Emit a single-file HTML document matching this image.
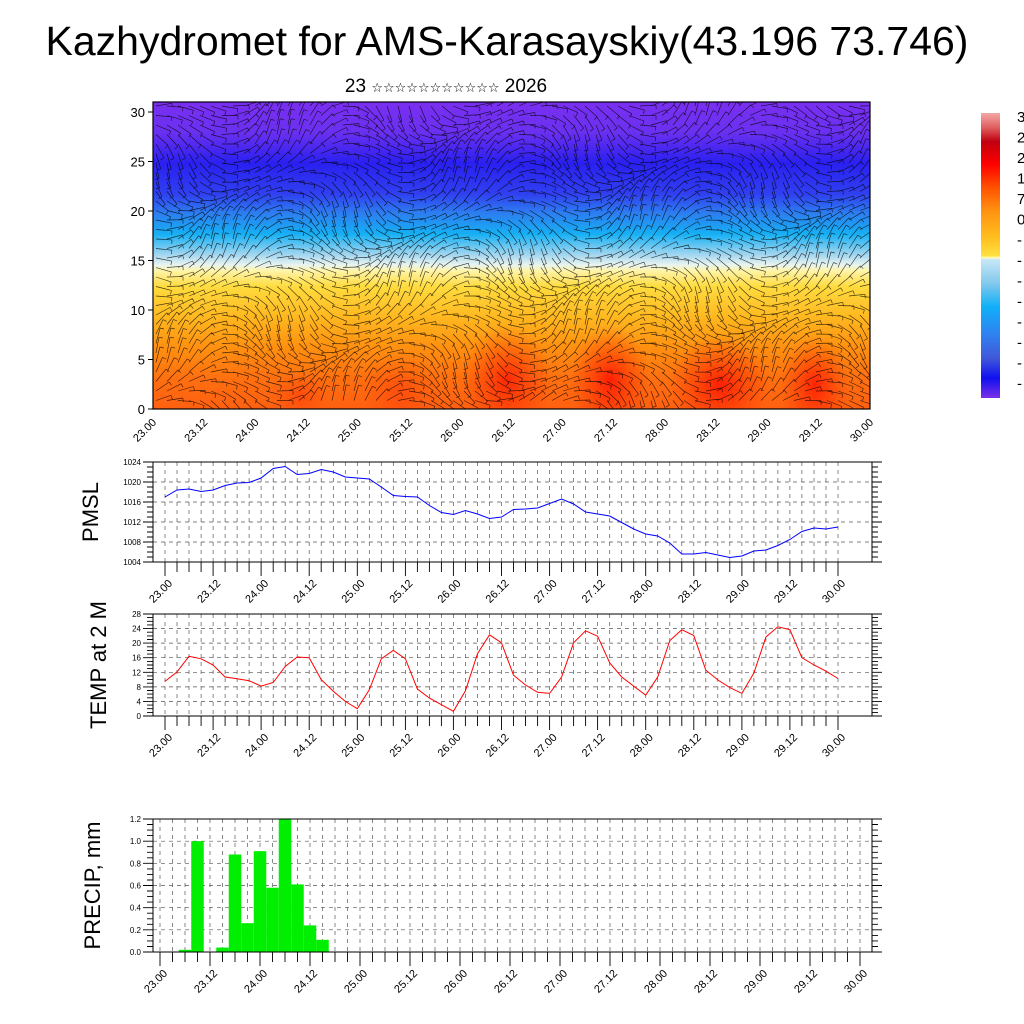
<!DOCTYPE html>
<html><head><meta charset="utf-8"><style>
html,body{margin:0;padding:0;background:#fff;}
svg{display:block;font-family:"Liberation Sans","DejaVu Sans",sans-serif;}
</style></head><body>
<svg id="svg" width="1024" height="1024" viewBox="0 0 1024 1024" xmlns="http://www.w3.org/2000/svg">
<defs>
<linearGradient id="fieldGrad" x1="0" y1="0" x2="0" y2="1">
<stop offset="0" stop-color="#7a2ff0"/>
<stop offset="0.1" stop-color="#6a30f0"/>
<stop offset="0.2" stop-color="#2a20f0"/>
<stop offset="0.3" stop-color="#3040f0"/>
<stop offset="0.36" stop-color="#2d7cf0"/>
<stop offset="0.43" stop-color="#16b0f4"/>
<stop offset="0.5" stop-color="#a8d8f0"/>
<stop offset="0.53" stop-color="#e8f4f0"/>
<stop offset="0.55" stop-color="#fff4a8"/>
<stop offset="0.6" stop-color="#ffdc40"/>
<stop offset="0.7" stop-color="#ffb820"/>
<stop offset="0.8" stop-color="#ff9010"/>
<stop offset="0.9" stop-color="#ff7010"/>
<stop offset="1" stop-color="#ff6010"/>
</linearGradient>
<linearGradient id="cbGrad" x1="0" y1="0" x2="0" y2="1">
<stop offset="0" stop-color="#f4a8a8"/>
<stop offset="0.05" stop-color="#e06060"/>
<stop offset="0.1" stop-color="#c00010"/>
<stop offset="0.18" stop-color="#ff0000"/>
<stop offset="0.26" stop-color="#ff5000"/>
<stop offset="0.34" stop-color="#ff9010"/>
<stop offset="0.44" stop-color="#ffc020"/>
<stop offset="0.5" stop-color="#ffe040"/>
<stop offset="0.51" stop-color="#ffffc8"/>
<stop offset="0.512" stop-color="#c8e8f8"/>
<stop offset="0.6" stop-color="#80c8ec"/>
<stop offset="0.68" stop-color="#10b0f8"/>
<stop offset="0.78" stop-color="#3080f0"/>
<stop offset="0.86" stop-color="#4058d8"/>
<stop offset="0.93" stop-color="#1010f0"/>
<stop offset="1" stop-color="#7a30e8"/>
</linearGradient>
<radialGradient id="redBlob"><stop offset="0" stop-color="#ff0000" stop-opacity="0.9"/><stop offset="1" stop-color="#ff2000" stop-opacity="0"/></radialGradient>
<clipPath id="fieldClip"><rect x="153" y="102" width="717" height="307"/></clipPath>
</defs>
<text x="507" y="55" font-size="41" text-anchor="middle">Kazhydromet for AMS-Karasayskiy(43.196 73.746)</text>
<text x="446" y="92" font-size="19" text-anchor="middle">23 <tspan font-size="13">☆☆☆☆☆☆☆☆☆☆☆</tspan> 2026</text>
<g id="top"></g>
<g id="cb"></g>
<g id="pmsl"></g>
<g id="temp"></g>
<g id="precip"></g>
</svg>
<script>
// ---- data ----
const timeLabels = ["23.00","23.12","24.00","24.12","25.00","25.12","26.00","26.12","27.00","27.12","28.00","28.12","29.00","29.12","30.00"];
const pmslValues = [1017.0,1018.4,1018.6,1018.1,1018.4,1019.3,1019.8,1019.9,1020.8,1022.7,1023.1,1021.5,1021.7,1022.5,1022.0,1021.0,1020.8,1020.6,1019.0,1017.3,1017.1,1017.0,1015.3,1013.9,1013.5,1014.3,1013.6,1012.7,1013.0,1014.5,1014.6,1014.8,1015.7,1016.6,1015.6,1014.0,1013.6,1013.2,1011.9,1010.6,1009.6,1009.2,1007.8,1005.6,1005.6,1005.9,1005.4,1004.9,1005.2,1006.2,1006.4,1007.3,1008.5,1010.1,1010.8,1010.6,1011.0];
const pmslTicks = [1004,1008,1012,1016,1020,1024];
const tempValues = [9.5,12.1,16.4,15.7,14.0,10.7,10.2,9.7,8.2,9.2,13.6,16.2,16.0,10.0,6.8,4.0,2.0,7.2,15.7,18.0,15.7,7.4,4.9,3.1,1.3,6.9,17.1,22.3,20.1,11.2,8.5,6.5,6.2,10.7,20.1,23.4,21.9,14.6,10.7,8.2,5.7,10.7,20.7,23.7,22.1,12.6,9.9,7.8,6.2,11.8,21.7,24.5,23.7,16.0,14.0,12.3,10.3];
const tempTicks = [0,4,8,12,16,20,24,28];
const precipValues = [0,0,0.02,1.0,0,0.04,0.88,0.26,0.91,0.58,1.2,0.61,0.24,0.11];
const precipTicks = ["0.0","0.2","0.4","0.6","0.8","1.0","1.2"];
const heightTicks = [0,5,10,15,20,25,30];
const cbLabels = ["3","2","2","1","7","0","-","-","-","-","-","-","-","-"];

const NS="http://www.w3.org/2000/svg";
function mk(p,tag,at){const e=document.createElementNS(NS,tag);for(const k in at)e.setAttribute(k,at[k]);p.appendChild(e);return e;}

// ---- top panel ----
(function(){
  const g=document.getElementById('top');
  const X0=153,X1=870,Y0=102,Y1=409;
  const yS=v=>409-v*(297/30);
  const r=mk(g,'rect',{x:X0,y:Y0,width:X1-X0,height:Y1-Y0,fill:'url(#fieldGrad)'});
  
  
  const cg=mk(g,'g',{'clip-path':'url(#fieldClip)'});
  [[400,390,40,40,0.3],[507,380,45,55,0.7],[610,380,40,55,0.8],[720,385,50,50,0.8],[815,385,35,50,0.75],[300,395,30,25,0.3]].forEach(b=>{
    const e=mk(cg,'ellipse',{cx:b[0],cy:b[1],rx:b[2],ry:b[3],fill:'url(#redBlob)',opacity:b[4]});
    
    
  });
  const wg=mk(cg,'g',{stroke:'#000','stroke-width':'0.65','stroke-opacity':'0.75',fill:'none'});
  
  
  let d='';
  for(let y=106;y<409;y+=9.5){
    for(let x=156;x<870;x+=11){
      const a=Math.sin(x*0.031+y*0.017)*0.9+Math.cos(x*0.012-y*0.05)*0.5;
      const L=16;
      const dx=Math.cos(a)*L,dy=Math.sin(a)*L;
      d+=`M${x.toFixed(1)} ${y.toFixed(1)}l${dx.toFixed(1)} ${dy.toFixed(1)}`;
      const bx=-Math.sin(a)*4,by=Math.cos(a)*4;
      d+=`M${(x+dx).toFixed(1)} ${(y+dy).toFixed(1)}l${bx.toFixed(1)} ${by.toFixed(1)}`;
    }
  }
  mk(wg,'path',{d:d});
  const fr=mk(g,'rect',{x:X0,y:Y0,width:X1-X0,height:Y1-Y0,fill:'none',stroke:'#000','stroke-width':'1.2'});
  
  
  heightTicks.forEach(v=>{
    mk(g,'line',{x1:X0-5,x2:X0,y1:yS(v),y2:yS(v),stroke:'#000'});
    const t=mk(g,'text',{x:X0-8,y:yS(v)+5,'font-size':13,'text-anchor':'end'});t.textContent=v;
    
    
  });
  timeLabels.forEach((s,i)=>{
    const x=X0+i*(X1-X0)/14;
    const t=mk(g,'text',{x:x+4,y:Y1+14,'font-size':11,'text-anchor':'end',transform:`rotate(-45 ${x+4} ${Y1+14})`});t.textContent=s;
    
    
  });
})();

// ---- colorbar ----
(function(){
  const g=document.getElementById('cb');
  const r=mk(g,'rect',{x:981,y:113,width:19,height:285,fill:'url(#cbGrad)'});
  
  
  cbLabels.forEach((s,i)=>{
    const t=mk(g,'text',{x:1017,y:122+i*20.5,'font-size':15});t.textContent=s;
    
    
  });
})();

// ---- generic line/bar panel ----
function panel(id,o){
  const g=document.getElementById(id);
  const {X0,X1,Y0,Y1,T0,T1,vmin,vmax}=o;
  const xS=h=>T0+h*(T1-T0)/168;
  const yS=v=>Y1-(v-vmin)*(Y1-Y0)/(vmax-vmin);
  let gd='';
  for(let h=0;h<=168;h+=3){const x=xS(h);if(x>X0&&x<X1)gd+=`M${x.toFixed(1)} ${Y0}V${Y1}`;}
  o.ticks.forEach(v=>{const y=yS(+v);if(y>Y0+1&&y<Y1-1)gd+=`M${X0} ${y.toFixed(1)}H${X1}`;});
  const gp=mk(g,'path',{d:gd,stroke:'#555','stroke-width':'0.7','stroke-dasharray':'4 4',fill:'none'});
  
  
  if(o.bars){
    const bw=(T1-T0)/56;
    o.bars.forEach((v,i)=>{
      if(v<=0)return;
      const x=xS(i*3)-bw/2;
      const b=mk(g,'rect',{x:x,y:yS(v),width:bw,height:yS(0)-yS(v),fill:'#00ee00'});
      
      
    });
  }
  if(o.line){
    const pts=o.line.map((v,i)=>xS(i*3).toFixed(1)+','+yS(v).toFixed(1)).join(' ');
    const pl=mk(g,'polyline',{points:pts,fill:'none',stroke:o.color,'stroke-width':'1'});
    
    
  }
  const fr=mk(g,'rect',{x:X0,y:Y0,width:X1-X0,height:Y1-Y0,fill:'none',stroke:'#000','stroke-width':'1'});
  
  
  let td='';
  const step=o.minor;
  for(let v=vmin;v<=vmax+1e-9;v+=step){const y=yS(v).toFixed(1);td+=`M${X0-6} ${y}H${X0}M${X1} ${y}H${X1+6}`;}
  o.ticks.forEach(v=>{const y=yS(+v).toFixed(1);td+=`M${X0-10} ${y}H${X0}M${X1} ${y}H${X1+10}`;});
  for(let h=0;h<=168;h+=3){const x=xS(h).toFixed(1);td+=`M${x} ${Y1}V${Y1+(h%12==0?14:10)}`;}
  mk(g,'path',{d:td,stroke:'#000','stroke-width':'0.9',fill:'none'});
  o.ticks.forEach(v=>{
    const t=mk(g,'text',{x:X0-12,y:yS(+v)+3,'font-size':o.fs||8,'text-anchor':'end'});t.textContent=v;
    
    
  });
  timeLabels.forEach((s,i)=>{
    const x=xS(i*12)+8,y=Y1+22;
    const t=mk(g,'text',{x:x,y:y,'font-size':11,'text-anchor':'end',transform:`rotate(-45 ${x} ${y})`});t.textContent=s;
    
    
  });
  const yc=(Y0+Y1)/2;
  const tt=mk(g,'text',{x:o.tx,y:yc,'font-size':22,'text-anchor':'middle',transform:`rotate(-90 ${o.tx} ${yc})`});tt.textContent=o.title;
  
  
}
panel('pmsl',{X0:153,X1:872,Y0:462,Y1:562,T0:165,T1:838,vmin:1004,vmax:1024,ticks:pmslTicks,minor:1,line:pmslValues,color:'#0000ff',title:'PMSL',tx:98});
panel('temp',{X0:153,X1:872,Y0:614,Y1:716,T0:165,T1:838,vmin:0,vmax:28,ticks:tempTicks,minor:1,line:tempValues,color:'#ff0000',title:'TEMP at 2 M',tx:106});
panel('precip',{X0:153,X1:872,Y0:819,Y1:952,T0:160,T1:860,vmin:0,vmax:1.2,ticks:precipTicks,minor:0.05,bars:precipValues,title:'PRECIP, mm',tx:100,fs:8});
</script>
</body></html>
